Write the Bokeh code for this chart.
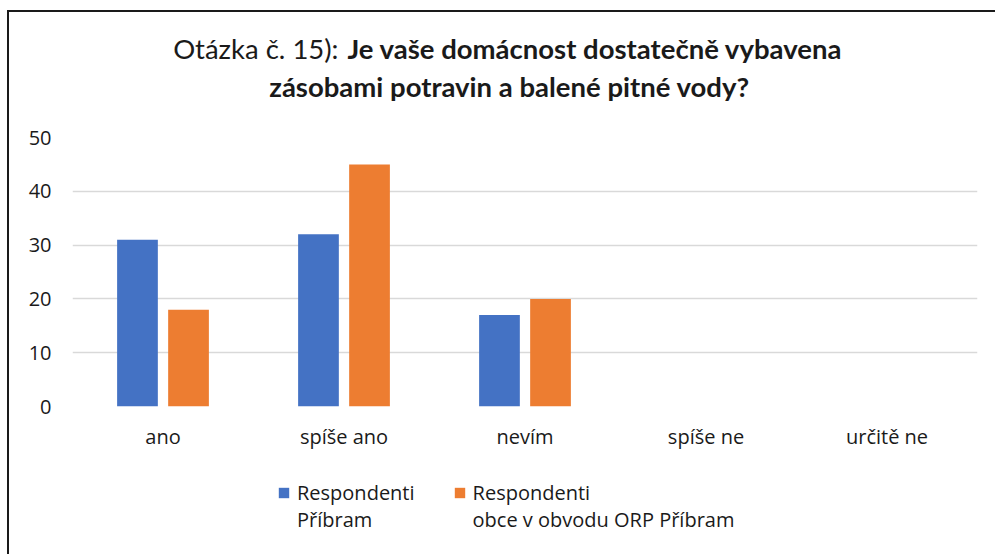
from bokeh.plotting import figure
from bokeh.layouts import column
from bokeh.models import ColumnDataSource, FactorRange, Legend, LegendItem, Range1d, FixedTicker
from bokeh.core.properties import value
from bokeh.transform import dodge
from bokeh.embed import file_html
from bokeh.resources import INLINE

categories = ["ano", "spíše ano", "nevím", "spíše ne", "určitě ne"]
pribram = [31, 32, 17, 0, 0]
obce = [18, 45, 20, 0, 0]
series_names = ["Respondenti\nPříbram", "Respondenti\nobce v obvodu ORP Příbram"]
y_ticks = [0, 10, 20, 30, 40, 50]
title_normal = "Otázka č. 15):"
title_bold_1 = "Je vaše domácnost dostatečně vybavena"
title_bold_2 = "zásobami potravin a balené pitné vody?"

BLUE = "#4472C4"
ORANGE = "#ED7D31"
TEXT = "#1a1a1a"
FONT = "Open Sans"
TFONT = "Lato"
W = 986
ML, MR = 63, 18  # plot frame borders shared by all stacked figures


def bare(fig):
    fig.axis.visible = False
    fig.grid.visible = False
    fig.outline_line_color = None
    return fig


# ---- header (title) ----
HH = 105
head = bare(figure(width=W, height=HH, x_range=Range1d(ML, W - MR), y_range=Range1d(0, HH),
                   output_backend="svg", toolbar_location=None,
                   min_border_left=ML, min_border_right=MR, min_border_top=0, min_border_bottom=0))
head.text(x=[329], y=[69], text=[title_normal], text_align="right", text_baseline="middle",
          text_font=value(TFONT), text_font_size="27.5px", text_color=TEXT)
head.text(x=[338], y=[69], text=[title_bold_1], text_align="left", text_baseline="middle",
          text_font=value(TFONT), text_font_size="27.5px", text_font_style="bold", text_color=TEXT)
head.text(x=[500], y=[31], text=[title_bold_2], text_align="center", text_baseline="middle",
          text_font=value(TFONT), text_font_size="27.5px", text_font_style="bold", text_color=TEXT)

# ---- main chart ----
source = ColumnDataSource(dict(cat=categories, pribram=pribram, obce=obce))

p = figure(x_range=FactorRange(factors=categories), y_range=Range1d(0, 50),
           width=W, height=335, output_backend="svg", toolbar_location=None,
           min_border_left=ML, min_border_right=MR, min_border_top=20, min_border_bottom=45)
p.outline_line_color = None

p.vbar(x=dodge("cat", -0.141, range=p.x_range), top="pribram", width=0.225,
       source=source, fill_color=BLUE, line_color=None)
p.vbar(x=dodge("cat", 0.141, range=p.x_range), top="obce", width=0.225,
       source=source, fill_color=ORANGE, line_color=None)

p.xgrid.grid_line_color = None
p.ygrid.grid_line_color = "#d9d9d9"
p.ygrid.grid_line_width = 1.5
p.yaxis.ticker = FixedTicker(ticks=y_ticks)
for ax in (p.xaxis[0], p.yaxis[0]):
    ax.axis_line_color = None
    ax.major_tick_line_color = None
    ax.minor_tick_line_color = None
    ax.major_label_text_font = FONT
    ax.major_label_text_font_size = "20px"
    ax.major_label_text_color = TEXT
p.yaxis.major_label_standoff = 15
p.xaxis.major_label_standoff = 10

# ---- footer (legend) ----
FH = 102
foot = bare(figure(width=W, height=FH, x_range=Range1d(0, 1), y_range=Range1d(0, 1),
                   output_backend="svg", toolbar_location=None,
                   min_border_left=ML, min_border_right=MR, min_border_top=0, min_border_bottom=0))
# legend proxies: zero-height bars far outside the visible range
proxy = ColumnDataSource(dict(x=[-50], top=[-50], bottom=[-50]))
l1 = foot.vbar(x="x", top="top", bottom="bottom", width=0.1, source=proxy,
               fill_color=BLUE, line_color=None)
l2 = foot.vbar(x="x", top="top", bottom="bottom", width=0.1, source=proxy,
               fill_color=ORANGE, line_color=None)
# a leading empty line keeps each swatch level with the first label line
legend = Legend(items=[LegendItem(label="\n" + series_names[0], renderers=[l1]),
                       LegendItem(label="\n" + series_names[1], renderers=[l2])],
                orientation="horizontal", location=(205, 21),
                glyph_width=13, glyph_height=13, label_standoff=7, spacing=38,
                padding=0, margin=0, border_line_color=None, background_fill_alpha=0,
                label_text_font=FONT, label_text_font_size="20px", label_text_color=TEXT,
                label_text_line_height=1.5)
foot.add_layout(legend, "center")

layout = column(head, p, foot, spacing=0,
                styles={"margin-left": "7px", "margin-top": "10px",
                        "border-left": "2px solid #1a1a1a", "border-top": "2px solid #1a1a1a"})

open("out.html", "w").write(file_html(layout, INLINE))
